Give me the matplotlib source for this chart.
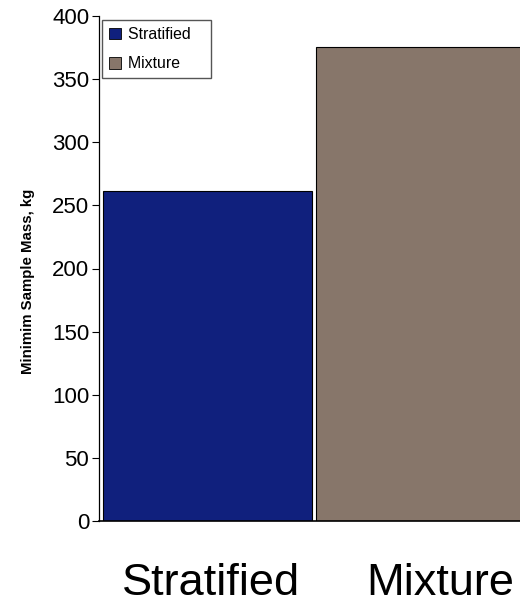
import matplotlib
matplotlib.use("Agg")
import matplotlib.pyplot as plt
import matplotlib.transforms as mtransforms
from matplotlib.patches import Patch

plt.rcParams['font.family'] = ['Liberation Sans', 'DejaVu Sans']

categories = ["Stratified", "Mixture"]
masses = [261.5, 375.5]
colors = ["#10207D", "#87766A"]
yticks = [0, 50, 100, 150, 200, 250, 300, 350, 400]

W, H = 520, 608
fig = plt.figure(figsize=(W / 100, H / 100), dpi=100)
ax = fig.add_axes([99 / W, 1 - 521 / H, 430 / W, 505 / H])

x = list(range(len(categories)))
ax.bar(x, masses, width=0.98, color=colors, edgecolor="black", linewidth=0.8)

ax.set_xlim(-0.51, 1.51)
ax.set_ylim(0, 400)
ax.set_yticks(yticks)
ax.tick_params(axis="y", labelsize=16, length=5, width=0.8, direction="out", pad=2)
ax.set_xticks(x)
ax.set_xticklabels(categories, fontsize=32.5)
ax.tick_params(axis="x", length=0, pad=30)

# nudge the category labels to the right
for lbl, dx in zip(ax.get_xticklabels(), [3, 20]):
    lbl.set_transform(lbl.get_transform() +
                      mtransforms.ScaledTranslation(dx / 100, 0, fig.dpi_scale_trans))

for side in ("top", "right"):
    ax.spines[side].set_visible(False)
ax.spines["left"].set_linewidth(0.9)
ax.spines["bottom"].set_linewidth(1.2)

fig.text(28 / W, 1 - 281 / H, "Minimim Sample Mass, kg", fontsize=10.8,
         fontweight="bold", rotation=90, ha="center", va="center")

handles = [Patch(facecolor=c, edgecolor="black", linewidth=0.6) for c in colors]
leg = ax.legend(handles, [c + "   " for c in categories], loc="upper left",
                bbox_to_anchor=(0.007, 0.992),
                fontsize=11.4, frameon=True, fancybox=False, framealpha=1,
                edgecolor="#555555", handlelength=0.75, handleheight=0.75,
                handletextpad=0.45, labelspacing=0.9, borderpad=0.44, borderaxespad=0)
leg.get_frame().set_linewidth(1.0)

fig.savefig("out.png", dpi=100)
